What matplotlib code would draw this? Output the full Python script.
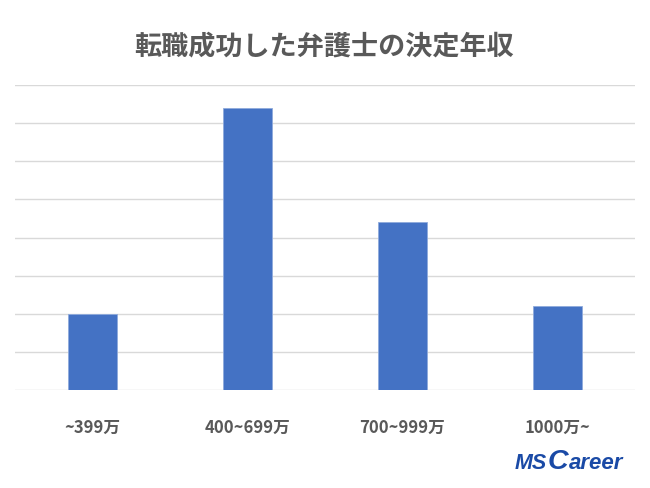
import matplotlib
matplotlib.use("Agg")
import matplotlib.pyplot as plt

plt.rcParams['font.family'] = ['Noto Sans CJK JP', 'DejaVu Sans']

categories = ["~399万", "400~699万", "700~999万", "1000万~"]
values = [2.0, 7.4, 4.4, 2.2]
title = "転職成功した弁護士の決定年収"

fig = plt.figure(figsize=(6.5, 4.88), dpi=100)
ax = fig.add_axes([15/650, 1-390.3/488, 620/650, (390.3-85)/488])

x = list(range(len(categories)))
ax.bar(x, values, width=0.314, color="#4472C4", edgecolor="#8FAADC", linewidth=0.6, zorder=3)
ax.set_xlim(-0.5, len(categories)-0.5)
ax.set_ylim(0, 8)
ax.set_yticks(range(0, 9))
ax.yaxis.grid(True, color="#D9D9D9", linewidth=1.0, zorder=0)
ax.tick_params(axis='y', left=False, labelleft=False)
ax.tick_params(axis='x', bottom=False, pad=17)
ax.set_xticks(x)
ax.set_xticklabels(categories, fontsize=12, fontweight='bold', color="#595959")
for s in ax.spines.values():
    s.set_visible(False)

fig.text(324/650, 1-46/488, title, ha='center', va='center', fontsize=19.5,
         fontweight='bold', color="#595959")

# logo, pieces chained left to right
fig.canvas.draw()
renderer = fig.canvas.get_renderer()
logo_color = "#1A4AA6"
x0 = 515.0
baseline = 469.0
pieces = [("MS", 15.5, 0.5), ("C", 20.5, 0.5), ("areer", 16.0, 0.0)]
for txt, size, gap in pieces:
    t = fig.text(x0/650, 1-baseline/488, txt, ha='left', va='baseline', fontsize=size,
                 fontweight='bold', fontstyle='italic', color=logo_color,
                 family='Liberation Sans')
    bb = t.get_window_extent(renderer)
    x0 = bb.x1 + gap

fig.savefig("out.png", dpi=100)
